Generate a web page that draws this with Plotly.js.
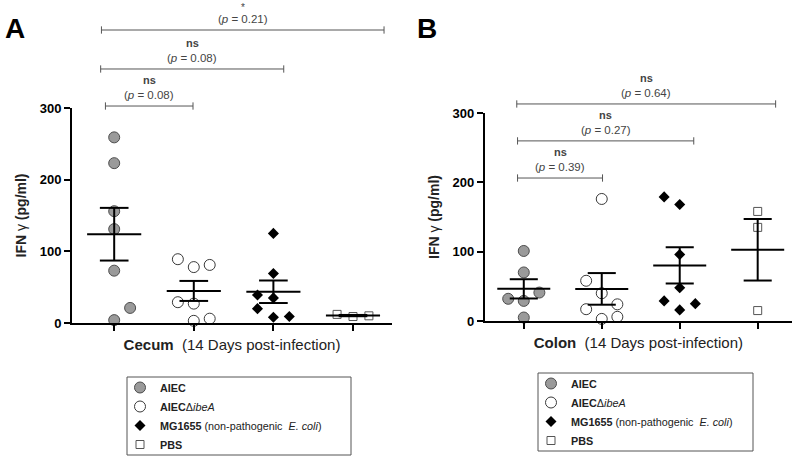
<!DOCTYPE html>
<html>
<head>
<meta charset="utf-8">
<script src="https://cdn.plot.ly/plotly-3.0.1.min.js"></script>
<style>
body { margin: 0; background: #fff; }
#plotArea { width: 800px; height: 456px; }
</style>
</head>
<body>
<div id="plotArea"></div>
<script>
// IFN gamma (pg/ml), 14 days post-infection, one value per mouse

var groupNames = ["AIEC", "AIECΔibeA", "MG1655", "PBS"];
var legendNames = [
    "<b>AIEC</b>",
    "<b>AIEC</b>Δ<i>ibeA</i>",
    "<b>MG1655</b> (non-pathogenic  <i>E. coli</i>)",
    "<b>PBS</b>"
];

// Cecum (panel A)
var cecumAIEC = [259, 223, 156, 131, 73, 21, 4];
var cecumIbeA = [89, 78, 81, 29, 27, 3, 6];
var cecumMG1655 = [125, 69, 39, 35, 20, 8, 9];
var cecumPBS = [12, 9, 10];

// Colon (panel B)
var colonAIEC = [101, 70, 41, 32, 29, 5];
var colonIbeA = [176, 58, 40, 24, 17, 3, 6];
var colonMG1655 = [179, 168, 96, 48, 29, 16, 25];
var colonPBS = [158, 135, 15];

// horizontal scatter of the dots around each group (in group units)
var cecumJitter = [
    [0, 0, 0, 0, 0, 0.2, 0],
    [-0.2, 0, 0.2, -0.2, 0, 0, 0.2],
    [0, 0, -0.2, 0, -0.2, 0, 0.2],
    [-0.2, 0, 0.2]
];
var colonJitter = [
    [0, 0, 0.2, -0.2, 0, 0],
    [0, -0.2, 0, 0.2, -0.2, 0, 0.2],
    [-0.2, 0, 0, 0, -0.2, 0, 0.2],
    [0, 0, 0]
];

// comparisons: [from group, to group, label, p]
var cecumTests = [[1, 2, "ns", "0.08"], [1, 3, "ns", "0.08"], [1, 4, "*", "0.21"]];
var colonTests = [[1, 2, "ns", "0.39"], [1, 3, "ns", "0.27"], [1, 4, "ns", "0.64"]];

var markerStyles = [
    {symbol: "circle", size: 11, color: "#9a9a9a", line: {color: "#4d4d4d", width: 1}},
    {symbol: "circle", size: 11, color: "#ffffff", line: {color: "#3a3a3a", width: 1}},
    {symbol: "diamond", size: 8.5, color: "#000000", line: {color: "#000000", width: 0}},
    {symbol: "square", size: 8, color: "#ffffff", line: {color: "#555555", width: 1}}
];

function mean(a) {
    return a.reduce((s, v) => s + v, 0) / a.length;
}
function sem(a) {
    var m = mean(a);
    var ss = a.reduce((s, v) => s + (v - m) * (v - m), 0);
    return Math.sqrt(ss / (a.length - 1)) / Math.sqrt(a.length);
}

function panelTraces(series, jitter, xa, ya, legendId) {
    var dots = [];
    var bars = [];
    series.forEach(function(vals, i) {
        var g = i + 1;
        dots.push({
            x: vals.map((v, k) => g + jitter[i][k]),
            y: vals,
            type: "scatter",
            mode: "markers",
            name: legendNames[i],
            legend: legendId,
            marker: markerStyles[i],
            cliponaxis: false,
            xaxis: xa, yaxis: ya,
            hoverinfo: "y"
        });
        var m = mean(vals), s = sem(vals);
        bars.push({
            x: [g - 0.34, g + 0.34, null, g, g, null, g - 0.18, g + 0.18, null, g - 0.18, g + 0.18],
            y: [m, m, null, m - s, m + s, null, m + s, m + s, null, m - s, m - s],
            type: "scatter",
            mode: "lines",
            line: {color: "#000", width: 2},
            showlegend: false,
            hoverinfo: "skip",
            cliponaxis: false,
            xaxis: xa, yaxis: ya
        });
    });
    return dots.concat(bars);
}

var data = panelTraces([cecumAIEC, cecumIbeA, cecumMG1655, cecumPBS], cecumJitter, "x", "y", "legend")
    .concat(panelTraces([colonAIEC, colonIbeA, colonMG1655, colonPBS], colonJitter, "x2", "y2", "legend2"));

// bracket geometry (paper y of the line, ends in group units)
var cecumBracketY = [0.7675, 0.8487, 0.9342];
var cecumBracketEnds = [[0.89, 1.99], [0.83, 3.13], [0.84, 4.39]];
var colonBracketY = [0.6096, 0.691, 0.772];
var colonBracketEnds = [[0.92, 2.01], [0.92, 3.18], [0.91, 4.23]];

var shapes = [];
var annotations = [];
function addBrackets(tests, ys, ends, xref) {
    tests.forEach(function(t, i) {
        var x0 = ends[i][0], x1 = ends[i][1], y = ys[i];
        var line = {color: "#555", width: 1};
        shapes.push({type: "line", xref: xref, yref: "paper", x0: x0, x1: x1, y0: y, y1: y, line: line});
        shapes.push({type: "line", xref: xref, yref: "paper", x0: x0, x1: x0, y0: y - 0.008, y1: y + 0.008, line: line});
        shapes.push({type: "line", xref: xref, yref: "paper", x0: x1, x1: x1, y0: y - 0.008, y1: y + 0.008, line: line});
        var xc = (x0 + x1) / 2;
        annotations.push({xref: xref, yref: "paper", x: xc, y: y + 0.024, yanchor: "middle",
            text: "(<i>p</i> = " + t[3] + ")", showarrow: false, font: {size: 11.5, color: "#444"}});
        var star = t[2] === "*";
        annotations.push({xref: xref, yref: "paper", x: xc, y: y + (star ? 0.05 : 0.056), yanchor: "middle",
            text: star ? t[2] : "<b>" + t[2] + "</b>", showarrow: false, font: {size: star ? 10 : 11, color: "#444"}});
    });
}
addBrackets(cecumTests, cecumBracketY, cecumBracketEnds, "x");
addBrackets(colonTests, colonBracketY, colonBracketEnds, "x2");

// legend frames
shapes.push({type: "rect", xref: "paper", yref: "paper", x0: 127 / 800, x1: 351 / 800,
    y0: 1 - 455 / 456, y1: 1 - 377 / 456, line: {color: "#555", width: 1}, fillcolor: "rgba(0,0,0,0)"});
shapes.push({type: "rect", xref: "paper", yref: "paper", x0: 538 / 800, x1: 753 / 800,
    y0: 1 - 451 / 456, y1: 1 - 373 / 456, line: {color: "#555", width: 1}, fillcolor: "rgba(0,0,0,0)"});

annotations.push({xref: "paper", yref: "paper", x: 0.004, y: 0.975, xanchor: "left", yanchor: "top",
    text: "<b>A</b>", showarrow: false, font: {size: 28, color: "#000"}});
annotations.push({xref: "paper", yref: "paper", x: 0.519, y: 0.975, xanchor: "left", yanchor: "top",
    text: "<b>B</b>", showarrow: false, font: {size: 28, color: "#000"}});

function xAxis(domain, range, label) {
    return {
        domain: domain, range: range, anchor: domain[0] < 0.5 ? "y" : "y2",
        tickvals: [1, 2, 3, 4], showticklabels: false,
        ticks: "outside", ticklen: 6, tickwidth: 2, tickcolor: "#000",
        showline: true, linecolor: "#000", linewidth: 2,
        showgrid: false, zeroline: false,
        title: {text: label, font: {size: 15, color: "#222"}, standoff: 10}
    };
}
function yAxis(domain, anchor) {
    return {
        domain: domain, range: [0, 300], anchor: anchor,
        tickvals: [0, 100, 200, 300],
        ticks: "outside", ticklen: 6, tickwidth: 2, tickcolor: "#000",
        tickfont: {size: 13, color: "#000", weight: "bold"},
        showline: true, linecolor: "#000", linewidth: 2,
        showgrid: false, zeroline: false,
        title: {text: "<b>IFN</b> γ <b>(pg/ml)</b>", font: {size: 14, color: "#222"}, standoff: 10}
    };
}

var legendBase = {
    xanchor: "left", yanchor: "top",
    bgcolor: "rgba(0,0,0,0)", borderwidth: 0,
    font: {size: 10.8, color: "#222"}, traceorder: "normal", itemclick: false
};

var layout = {
    width: 800, height: 456,
    margin: {l: 0, r: 0, t: 0, b: 0, autoexpand: false},
    paper_bgcolor: "#fff", plot_bgcolor: "#fff",
    font: {family: "Liberation Sans, Arial, sans-serif"},
    showlegend: true,
    xaxis: xAxis([0.09, 0.49], [0.47, 4.49], "<b>Cecum</b>  (14 Days post-infection)"),
    yaxis: yAxis([0.2917, 0.7632], "x"),
    xaxis2: xAxis([0.606, 0.99], [0.5, 4.44], "<b>Colon</b>  (14 Days post-infection)"),
    yaxis2: yAxis([0.2961, 0.7522], "x2"),
    legend: Object.assign({x: 120 / 800, y: 1 - 373 / 456}, legendBase),
    legend2: Object.assign({x: 531 / 800, y: 1 - 369 / 456}, legendBase),
    shapes: shapes,
    annotations: annotations
};

Plotly.newPlot("plotArea", data, layout, {displayModeBar: false, staticPlot: true});
</script>
</body>
</html>
